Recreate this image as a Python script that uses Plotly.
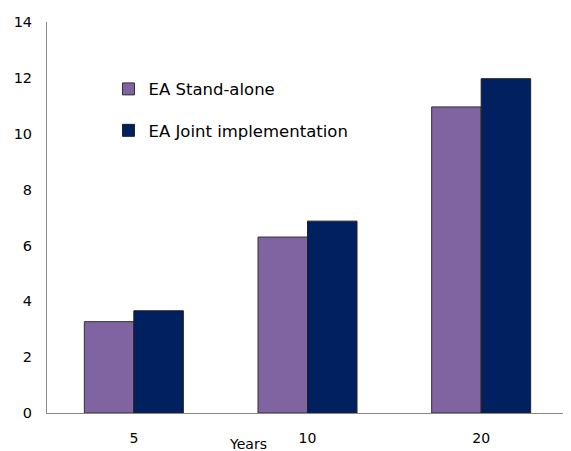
import plotly.graph_objects as go

categories = ["5", "10", "20"]
stand_alone = [3.27, 6.30, 10.96]
joint_impl = [3.66, 6.87, 11.97]
y_ticks = [0, 2, 4, 6, 8, 10, 12, 14]

FONT = "DejaVu Sans"

fig = go.Figure()
fig.add_trace(go.Bar(
    x=categories, y=stand_alone, name="EA Stand-alone",
    marker=dict(color="#8064A2", line=dict(color="#303030", width=1)),
    legendgroup="a",
))
fig.add_trace(go.Bar(
    x=categories, y=joint_impl, name="EA Joint implementation",
    marker=dict(color="#002060", line=dict(color="#202020", width=1)),
    legendgroup="b",
))

# page body has an 8px margin, so the figure is sized/offset to compensate
fig.update_layout(
    width=563, height=443,
    margin=dict(l=39, r=3, t=14, b=38, autoexpand=False),
    plot_bgcolor="white", paper_bgcolor="white",
    barmode="group", bargap=0.43, bargroupgap=0,
    font=dict(family=FONT, size=14, color="#000000"),
    showlegend=True,
    legend=dict(
        x=0.118, y=0.873, xanchor="left", yanchor="top",
        font=dict(family=FONT, size=16.5, color="#000000"),
        bgcolor="rgba(0,0,0,0)", itemwidth=30,
        tracegroupgap=17, traceorder="grouped",
    ),
    xaxis=dict(
        type="category", showline=True, linecolor="#888888", linewidth=1,
        ticks="", showgrid=False, ticklabelstandoff=12, automargin=False,
        tickfont=dict(family=FONT, size=14),
    ),
    yaxis=dict(
        range=[0, 14], tickvals=y_ticks, showline=True, linecolor="#888888",
        linewidth=1, ticks="", showgrid=False, zeroline=False, automargin=False,
        ticklabelstandoff=11, tickfont=dict(family=FONT, size=14.5),
    ),
    annotations=[dict(
        text="Years", xref="paper", yref="paper", x=0.386, y=-0.079,
        xanchor="center", yanchor="middle", showarrow=False,
        font=dict(family=FONT, size=14),
    )],
)

fig.write_html("out.html")
